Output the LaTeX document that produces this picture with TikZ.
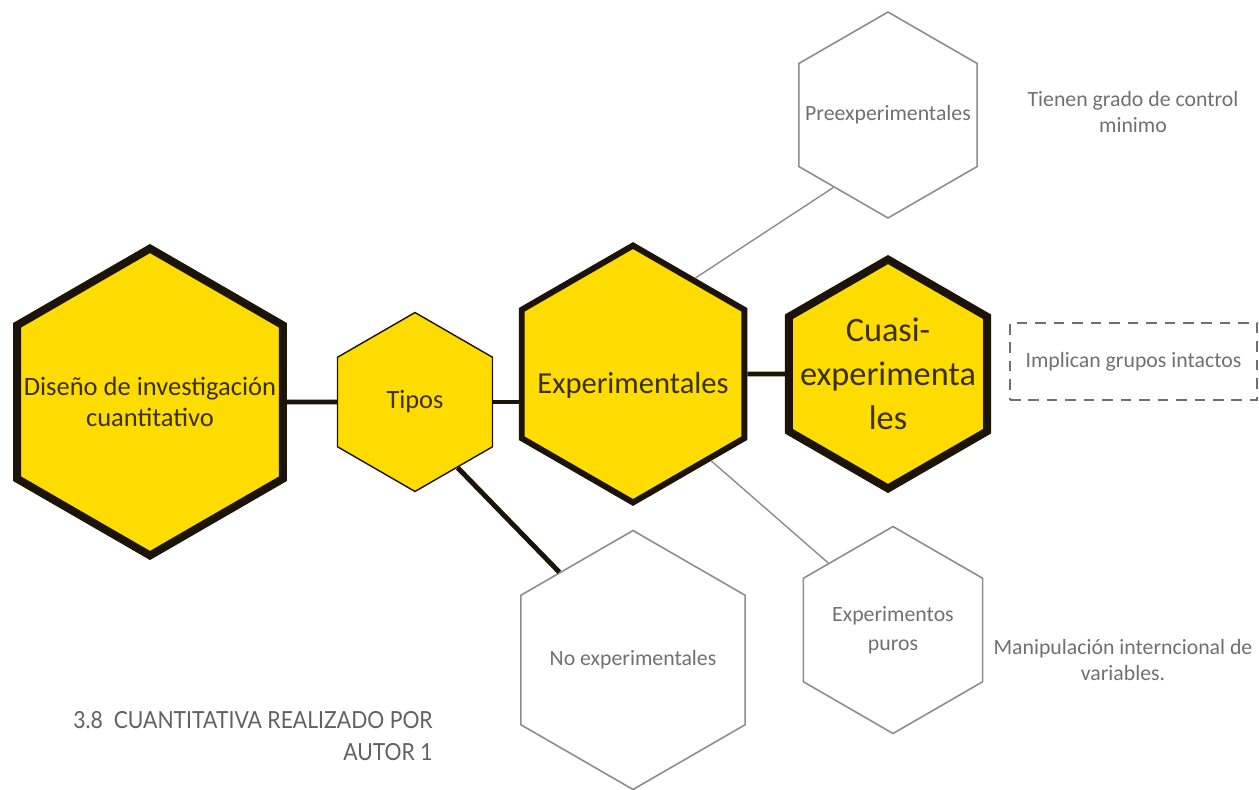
\documentclass[tikz,border=0pt]{standalone}
\usepackage{fontspec}
\usepackage{xcolor}
\usetikzlibrary{shapes.geometric}
\setmainfont{Carlito}
\newfontfamily\piefont[FakeStretch=0.9]{Lato}
\definecolor{hexyellow}{HTML}{FFDC00}
\definecolor{hexedge}{HTML}{1C1408}
\definecolor{hextext}{HTML}{3A3000}
\definecolor{subgray}{HTML}{8C8C8C}
\definecolor{notegray}{HTML}{707070}

\begin{document}
\begin{tikzpicture}[x=0.02cm, y=-0.02cm, every node/.style={font=\fontsize{12.4}{15}\selectfont}]
  \tikzstyle{hexa}=[regular polygon, regular polygon sides=6, shape border rotate=30, inner sep=-12pt, align=center]
  \tikzstyle{core}=[hexa, fill=hexyellow, draw=hexedge, text=hextext]
  \tikzstyle{leaf}=[hexa, draw=subgray, line width=0.9pt, text=notegray]
  \tikzstyle{bond}=[line width=2.8pt, draw=hexedge]
  \tikzstyle{twig}=[line width=0.8pt, draw=subgray]
  \useasboundingbox (0,0) rectangle (1259,789);
  % main chain
  \node[core, line width=4.5pt, minimum size=6.14cm,
        label={[align=center, text=hextext, font=\fontsize{15.1}{17.6}\selectfont]center:{Diseño de investigación\\cuantitativo}}] (diseno) at (150,402) {};
  \node[core, line width=0.8pt, minimum size=3.58cm, font=\fontsize{15}{18}\selectfont] (tipos) at (415,402) {Tipos};
  \node[core, line width=3.4pt, minimum size=5.14cm, text height=25pt, font=\fontsize{17.4}{21}\selectfont] (exper) at (633,374) {Experimentales};
  \node[core, line width=4.5pt, minimum size=4.58cm, font=\fontsize{19.5}{25}\selectfont] (cuasi) at (888,374) {Cuasi-\\experimenta\\les};
  % white ones
  \node[leaf, minimum size=4.12cm] (preexp) at (888,115) {Preexperimentales};
  \node[leaf, minimum size=4.14cm, font=\fontsize{12.4}{16.4}\selectfont] (puros) at (893,630) {Experimentos\\puros};
  \node[leaf, minimum size=5.18cm] (noexp) at (633,660) {No experimentales};
  % notes
  \node[text=notegray, align=center] (tpre) at (1133,112) {Tienen grado de control\\minimo};
  \node[draw=notegray, dashed, dash pattern=on 6pt off 4.5pt, line width=1.1pt, text=notegray,
        minimum width=4.94cm, minimum height=1.54cm] (tcuasi) at (1133.5,361.5) {Implican grupos intactos};
  \node[text=notegray, align=center] (tpuros) at (1123,660) {Manipulación interncional de\\variables.};
  \node[anchor=east, align=right, inner sep=0pt, text=black!62, font=\piefont\fontsize{13.4}{18}\selectfont] (pie) at (433,736) {3.8~~CUANTITATIVA REALIZADO POR\\AUTOR 1};
  % links
  \draw[bond] (diseno.0) -- (tipos.180);
  \draw[bond] (tipos.0) -- (tipos.0 -| exper.180);
  \draw[bond] (exper.0) -- (cuasi.180);
  \draw[bond] (tipos.303) -- (noexp.130);
  \draw[twig] (exper.57) -- (preexp.233);
  \draw[twig] (exper.312) -- (puros.134);
\end{tikzpicture}
\end{document}
